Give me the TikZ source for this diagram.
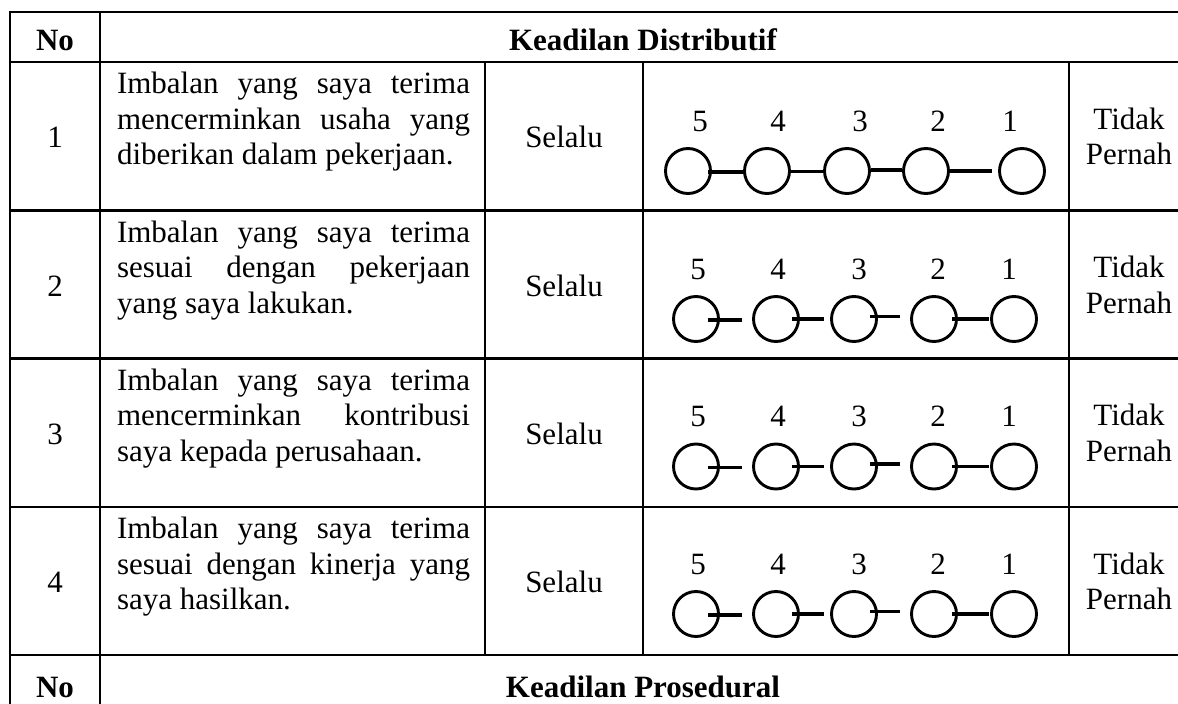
\documentclass[tikz,border=0pt]{standalone}
\usepackage{fontspec}
\setmainfont{Liberation Serif}
\usetikzlibrary{calc}
\begin{document}
\begin{tikzpicture}[x=1pt,y=-1pt,
  grid/.style={line width=2.6pt},
  txt/.style={font=\fontsize{31}{35.5}\selectfont, inner sep=0pt, outer sep=0pt},
  hdr/.style={font=\fontsize{31}{35.5}\selectfont\bfseries, inner sep=0pt, anchor=base},
  desc/.style={txt, anchor=north west, align=left},
  endlab/.style={txt, anchor=north, align=center},
  optc/.style={circle, draw, line width=2.9pt, minimum size=45pt, inner sep=0pt},
  link/.style={line width=3.2pt},
]
\useasboundingbox (0,0) rectangle (1178,704);
\clip (0,0) rectangle (1178,704);
% ---------- grid ----------
\draw[grid] (8.7,12) -- (1200,12);
\draw[grid] (10,62) -- (1200,62);
\draw[grid] (10,210.5) -- (1200,210.5);
\draw[grid] (10,358.5) -- (1200,358.5);
\draw[grid] (10,507) -- (1200,507);
\draw[grid] (10,655) -- (1200,655);
\draw[grid] (10,10.7) -- (10,720);
\draw[grid] (100,12) -- (100,720);
\draw[grid] (485,62) -- (485,655);
\draw[grid] (643,62) -- (643,655);
\draw[grid] (1069,62) -- (1069,655);
\draw[grid] (1190,12) -- (1190,720);
% ---------- headers ----------
\node[hdr] (h1no) at (55,50) {No};
\node[hdr] (h1t) at (643,50) {Keadilan Distributif};
\node[hdr] (h2no) at (55,697) {No};
\node[hdr] (h2t) at (643,697) {Keadilan Prosedural};
% ---------- row texts ----------
\newcommand{\fl}[1]{\makebox[353pt][s]{#1}}
\node[desc] (d1) at (117,68.5) {\rule{0pt}{25pt}\fl{Imbalan yang saya terima}\\\fl{mencerminkan usaha yang}\\diberikan dalam pekerjaan.};
\node[desc] (d2) at (117,217) {\rule{0pt}{25pt}\fl{Imbalan yang saya terima}\\\fl{sesuai dengan pekerjaan}\\yang saya lakukan.};
\node[desc] (d3) at (117,365) {\rule{0pt}{25pt}\fl{Imbalan yang saya terima}\\\fl{mencerminkan kontribusi}\\saya kepada perusahaan.};
\node[desc] (d4) at (117,513.5) {\rule{0pt}{25pt}\fl{Imbalan yang saya terima}\\\fl{sesuai dengan kinerja yang}\\saya hasilkan.};
% ---------- numbers, Selalu, Tidak Pernah ----------
\foreach \r/\yc in {1/136.25,2/284.5,3/432.75,4/581}{
  \node[txt, anchor=base] (n\r) at (55,\yc+11.5) {\r};
  \node[txt, anchor=base] (s\r) at (564,\yc+11.5) {Selalu};
  \node[endlab] (t\r) at (1129,\yc-32) {\rule{0pt}{25pt}Tidak\\Pernah};
}
% ---------- row 1 scale ----------
\foreach \k/\x/\lx/\lab in {1/688/700/5,2/767/778/4,3/847/860/3,4/926/938/2,5/1022/1010/1}{
  \node[optc] (c1-\k) at (\x,171) {};
  \node[txt, anchor=base] (l1-\k) at (\lx,131) {\lab};
}
\draw[link] ($(c1-1.center)+(20,1)$) -- ($(c1-2.center)+(-23,1)$);
\draw[link] ($(c1-2.center)+(24,0.5)$) -- ($(c1-3.center)+(-24,0.5)$);
\draw[link] ($(c1-3.center)+(24,-1)$) -- ($(c1-4.center)+(-24,-1)$);
\draw[link] ($(c1-4.center)+(24,0)$) -- ($(c1-5.center)+(-30,0)$);
% ---------- rows 2-4 scales ----------
\foreach \r/\cy in {2/319,3/466.5,4/614}{
  \foreach \k/\x/\lx/\lab in {1/696/698/5,2/776/778/4,3/854/859/3,4/934/938/2,5/1014/1009/1}{
    \node[optc] (c\r-\k) at (\x,\cy) {};
    \node[txt, anchor=base] (l\r-\k) at (\lx,\cy-40) {\lab};
  }
  \draw[link] ($(c\r-1.center)+(12,1)$) -- ($(c\r-2.center)+(-34,1)$);
  \draw[link] ($(c\r-2.center)+(16,0)$) -- ($(c\r-3.center)+(-30,0)$);
  \draw[link] ($(c\r-3.center)+(16,-2.5)$) -- ($(c\r-4.center)+(-34,-2.5)$);
  \draw[link] ($(c\r-4.center)+(18,0)$) -- ($(c\r-5.center)+(-25,0)$);
}
\end{tikzpicture}
\end{document}
